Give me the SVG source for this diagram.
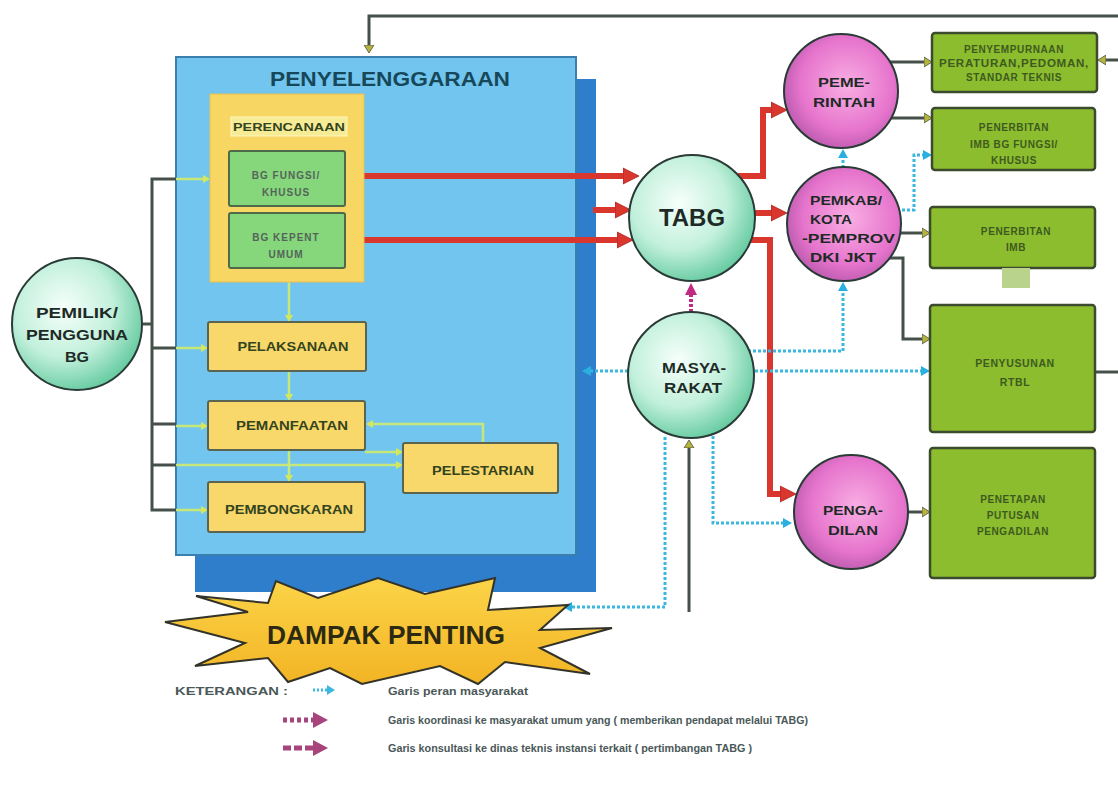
<svg xmlns="http://www.w3.org/2000/svg" width="1118" height="787" viewBox="0 0 1118 787">
<defs>
<radialGradient id="mint" cx="40%" cy="38%" r="68%"><stop offset="0" stop-color="#f6fffb"/><stop offset="0.55" stop-color="#c2f0dc"/><stop offset="1" stop-color="#5cc79a"/></radialGradient>
<radialGradient id="pink" cx="55%" cy="45%" r="68%"><stop offset="0" stop-color="#f9aee4"/><stop offset="0.6" stop-color="#e674cc"/><stop offset="1" stop-color="#a24c9e"/></radialGradient>
<linearGradient id="star" x1="0" y1="0" x2="0" y2="1"><stop offset="0" stop-color="#fcd448"/><stop offset="1" stop-color="#f2b424"/></linearGradient>
<marker id="mRed" markerUnits="userSpaceOnUse" markerWidth="18" markerHeight="18" refX="0" refY="9" orient="auto"><path d="M0,1 L16,9 L0,17 z" fill="#d9362e" stroke="#a82420" stroke-width="0.8"/></marker>
<marker id="mMag" markerUnits="userSpaceOnUse" markerWidth="14" markerHeight="14" refX="0" refY="7" orient="auto"><path d="M0,1 L12,7 L0,13 z" fill="#c02a80"/></marker>
<marker id="mCy" markerUnits="userSpaceOnUse" markerWidth="10" markerHeight="12" refX="0" refY="6" orient="auto"><path d="M0,1 L9,6 L0,11 z" fill="#2ab0e0"/></marker>
<marker id="mOl" markerUnits="userSpaceOnUse" markerWidth="10" markerHeight="12" refX="0" refY="6" orient="auto"><path d="M0,1 L8,6 L0,11 z" fill="#b6b43c" stroke="#4a504a" stroke-width="0.8"/></marker>
<marker id="mLg" markerUnits="userSpaceOnUse" markerWidth="8" markerHeight="10" refX="0" refY="5" orient="auto"><path d="M0,1 L7,5 L0,9 z" fill="#d6e85a"/></marker>
<marker id="mLegMag" markerUnits="userSpaceOnUse" markerWidth="18" markerHeight="18" refX="0" refY="9" orient="auto"><path d="M0,1 L15,9 L0,17 z" fill="#a8447c"/></marker>
<marker id="mLegCy" markerUnits="userSpaceOnUse" markerWidth="10" markerHeight="12" refX="0" refY="6" orient="auto"><path d="M0,1 L8,6 L0,11 z" fill="#3ab8e0"/></marker>
</defs>
<style>
text{font-family:"Liberation Sans",Arial,sans-serif;font-weight:bold;}
.c{text-anchor:middle;}
.red{fill:none;stroke:#d9362e;stroke-width:6;marker-end:url(#mRed);}
.mag{fill:none;stroke:#c02a80;stroke-width:4;stroke-dasharray:3 2;marker-end:url(#mMag);}
.cy{fill:none;stroke:#3ab8e0;stroke-width:3;stroke-dasharray:3 2;marker-end:url(#mCy);}
.ol{fill:none;stroke:#46504a;stroke-width:3;marker-end:url(#mOl);}
.gr{fill:none;stroke:#46504a;stroke-width:3;}
.lg{fill:none;stroke:#c6e878;stroke-width:2.5;marker-end:url(#mLg);}
.ybox{fill:#f8d86a;stroke:#5a6450;stroke-width:2;}
.gbox{fill:#86d77c;stroke:#4e6a48;stroke-width:2;}
.rbox{fill:#8bbd2e;stroke:#3c4a2e;stroke-width:2.5;}
.ylab{fill:#34441e;}
.glab{fill:#54645a;}
.rlab{fill:#3e5a20;letter-spacing:0.6px;}
.circ{stroke:#2a3a36;stroke-width:2;}
.clab{fill:#1e2a26;}
.leg{fill:#4a5858;}
</style>

<rect x="0" y="0" width="1118" height="787" fill="#ffffff"/>

<g id="penyelenggaraan">
<rect x="195" y="79" width="401" height="513" fill="#2f7ecb"/>
<rect x="176" y="57" width="400" height="498" fill="#72c5ef" stroke="#3a7fae" stroke-width="2"/>
<text x="390" y="86" class="c" fill="#17485a" font-size="20" textLength="240" lengthAdjust="spacingAndGlyphs">PENYELENGGARAAN</text>
</g>

<g id="connectors">
<path class="ol" d="M1118,16 H369 V45"/>
<path class="ol" d="M1118,60 H1106"/>
<path class="gr" d="M1095,372 H1118"/>
<path class="gr" d="M143,324 H152"/>
<path class="gr" d="M176,179 H152 V510 H176 M152,348 H176 M152,424 H176 M152,465 H176"/>
<path class="lg" d="M176,179 H203"/>
<path class="lg" d="M176,348 H201"/>
<path class="lg" d="M176,426 H201"/>
<path class="lg" d="M176,465 H396"/>
<path class="lg" d="M176,510 H201"/>
<path class="lg" d="M289,282 V315"/>
<path class="lg" d="M289,371 V394"/>
<path class="lg" d="M289,450 V475"/>
<path class="lg" d="M483,443 V424 H373"/>
<path class="lg" d="M365,452 H396"/>
<path class="red" d="M363,176 H623"/>
<path class="red" d="M593,210 H615"/>
<path class="red" d="M363,240 H617"/>
<path class="red" d="M738,176 H763 V110 H771"/>
<path class="red" d="M755,213 H771"/>
<path class="red" d="M748,240 H770 V494 H780"/>
<path class="mag" d="M691,312 V295"/>
<path class="cy" d="M628,371 H591"/>
<path class="cy" d="M755,371 H921"/>
<path class="cy" d="M748,351 H843 V291"/>
<path class="cy" d="M902,210 H914 V155 H923"/>
<path class="cy" d="M843,168 V158"/>
<path class="cy" d="M665,437 V607 H572"/>
<path class="cy" d="M713,436 V523 H783"/>
<path class="ol" d="M890,62 H924"/>
<path class="ol" d="M891,118 H924"/>
<path class="ol" d="M900,233 H922"/>
<path class="ol" d="M887,258 H903 V339 H922"/>
<path class="ol" d="M908,512 H922"/>
<path class="ol" d="M689,612 V448"/>
</g>

<g id="perencanaan">
<rect x="210" y="94" width="154" height="188" fill="#f8d664" stroke="#e8c050" stroke-width="1"/>
<rect x="231" y="117" width="116" height="19" fill="#f6ec96" stroke="#fff6c0" stroke-width="1"/>
<text x="289" y="131" class="c ylab" font-size="11.5" textLength="112" lengthAdjust="spacingAndGlyphs">PERENCANAAN</text>
</g>
<g id="bg-fungsi-khusus">
<rect class="gbox" x="229" y="151" width="116" height="55" rx="2"/>
<text x="286" y="179" class="c glab" font-size="10" letter-spacing="1">BG FUNGSI/</text>
<text x="286" y="196" class="c glab" font-size="10" letter-spacing="1">KHUSUS</text>
</g>
<g id="bg-kepent-umum">
<rect class="gbox" x="229" y="213" width="116" height="55" rx="2"/>
<text x="286" y="241" class="c glab" font-size="10" letter-spacing="1">BG KEPENT</text>
<text x="286" y="258" class="c glab" font-size="10" letter-spacing="1">UMUM</text>
</g>
<g id="pelaksanaan">
<rect class="ybox" x="208" y="322" width="158" height="49" rx="2"/>
<text x="293" y="351" class="c ylab" font-size="12" textLength="111" lengthAdjust="spacingAndGlyphs">PELAKSANAAN</text>
</g>
<g id="pemanfaatan">
<rect class="ybox" x="208" y="401" width="157" height="49" rx="2"/>
<text x="292" y="430" class="c ylab" font-size="12" textLength="112" lengthAdjust="spacingAndGlyphs">PEMANFAATAN</text>
</g>
<g id="pembongkaran">
<rect class="ybox" x="208" y="482" width="157" height="50" rx="2"/>
<text x="289" y="514" class="c ylab" font-size="12" textLength="128" lengthAdjust="spacingAndGlyphs">PEMBONGKARAN</text>
</g>
<g id="pelestarian">
<rect class="ybox" x="403" y="443" width="155" height="50" rx="2"/>
<text x="483" y="475" class="c ylab" font-size="12" textLength="102" lengthAdjust="spacingAndGlyphs">PELESTARIAN</text>
</g>

<g id="pemilik">
<ellipse class="circ" cx="77" cy="324" rx="65" ry="66" fill="url(#mint)"/>
<text x="77" y="318" class="c clab" font-size="14" textLength="82" lengthAdjust="spacingAndGlyphs">PEMILIK/</text>
<text x="77" y="340" class="c clab" font-size="14" textLength="102" lengthAdjust="spacingAndGlyphs">PENGGUNA</text>
<text x="77" y="362" class="c clab" font-size="14" textLength="24" lengthAdjust="spacingAndGlyphs">BG</text>
</g>
<g id="tabg">
<circle class="circ" cx="692" cy="218" r="63" fill="url(#mint)"/>
<text x="692" y="226" class="c clab" font-size="23" textLength="66" lengthAdjust="spacingAndGlyphs">TABG</text>
</g>
<g id="masyarakat">
<circle class="circ" cx="691" cy="375" r="63" fill="url(#mint)"/>
<text x="694" y="373" class="c clab" font-size="14" textLength="64" lengthAdjust="spacingAndGlyphs">MASYA-</text>
<text x="693" y="393" class="c clab" font-size="14" textLength="58" lengthAdjust="spacingAndGlyphs">RAKAT</text>
</g>
<g id="pemerintah">
<circle class="circ" cx="841" cy="91" r="57" fill="url(#pink)"/>
<text x="844" y="87" class="c clab" font-size="13.5" textLength="52" lengthAdjust="spacingAndGlyphs">PEME-</text>
<text x="844" y="107" class="c clab" font-size="13.5" textLength="62" lengthAdjust="spacingAndGlyphs">RINTAH</text>
</g>
<g id="pemkab">
<circle class="circ" cx="844" cy="224" r="57" fill="url(#pink)"/>
<text x="810" y="205" class="clab" font-size="13" textLength="72" lengthAdjust="spacingAndGlyphs">PEMKAB/</text>
<text x="810" y="224" class="clab" font-size="13" textLength="42" lengthAdjust="spacingAndGlyphs">KOTA</text>
<text x="802" y="243" class="clab" font-size="13" textLength="93" lengthAdjust="spacingAndGlyphs">-PEMPROV</text>
<text x="810" y="262" class="clab" font-size="13" textLength="66" lengthAdjust="spacingAndGlyphs">DKI JKT</text>
</g>
<g id="pengadilan">
<circle class="circ" cx="851" cy="512" r="57" fill="url(#pink)"/>
<text x="853" y="515" class="c clab" font-size="13.5" fill="#3a1a30" textLength="60" lengthAdjust="spacingAndGlyphs">PENGA-</text>
<text x="853" y="535" class="c clab" font-size="13.5" fill="#3a1a30" textLength="50" lengthAdjust="spacingAndGlyphs">DILAN</text>
</g>

<g id="penyempurnaan">
<rect class="rbox" x="932" y="33" width="165" height="59" rx="3"/>
<text x="1014" y="53" class="c rlab" font-size="10">PENYEMPURNAAN</text>
<text x="1014" y="67" class="c rlab" font-size="10" textLength="150" lengthAdjust="spacingAndGlyphs">PERATURAN,PEDOMAN,</text>
<text x="1014" y="81" class="c rlab" font-size="10">STANDAR TEKNIS</text>
</g>
<g id="penerbitan-imb-bg">
<rect class="rbox" x="932" y="108" width="163" height="62" rx="3"/>
<text x="1014" y="131" class="c rlab" font-size="10">PENERBITAN</text>
<text x="1014" y="148" class="c rlab" font-size="10">IMB BG FUNGSI/</text>
<text x="1014" y="164" class="c rlab" font-size="10">KHUSUS</text>
</g>
<g id="penerbitan-imb">
<rect class="rbox" x="930" y="207" width="165" height="61" rx="3"/>
<text x="1016" y="235" class="c rlab" font-size="10">PENERBITAN</text>
<text x="1016" y="251" class="c rlab" font-size="10">IMB</text>
<rect x="1002" y="268" width="28" height="20" fill="#b9d28c"/>
</g>
<g id="penyusunan-rtbl">
<rect class="rbox" x="930" y="305" width="165" height="127" rx="3"/>
<text x="1015" y="367" class="c rlab" font-size="10.5">PENYUSUNAN</text>
<text x="1015" y="386" class="c rlab" font-size="10.5">RTBL</text>
</g>
<g id="penetapan-putusan">
<rect class="rbox" x="930" y="448" width="165" height="130" rx="3"/>
<text x="1013" y="503" class="c rlab" font-size="10">PENETAPAN</text>
<text x="1013" y="519" class="c rlab" font-size="10">PUTUSAN</text>
<text x="1013" y="535" class="c rlab" font-size="10">PENGADILAN</text>
</g>

<g id="dampak-penting">
<polygon points="165,622 248,612 196,596 268,603 276,581 318,598 378,578 425,594 495,578 488,610 568,605 540,630 612,628 540,648 590,674 505,662 478,684 440,666 362,684 330,668 288,682 268,658 195,666 245,643" fill="url(#star)" stroke="#33332a" stroke-width="2"/>
<text x="386" y="644" class="c" fill="#2c2a12" font-size="26" textLength="238" lengthAdjust="spacingAndGlyphs">DAMPAK PENTING</text>
</g>

<g id="legend">
<text x="175" y="695" class="leg" font-size="10.5" textLength="113" lengthAdjust="spacingAndGlyphs">KETERANGAN :</text>
<path d="M313,690 H327" fill="none" stroke="#3ab8e0" stroke-width="3" stroke-dasharray="2 2" marker-end="url(#mLegCy)"/>
<text x="388" y="695" class="leg" font-size="10.5" textLength="140" lengthAdjust="spacingAndGlyphs">Garis peran masyarakat</text>
<path d="M283,720 H313" fill="none" stroke="#a8447c" stroke-width="5" stroke-dasharray="4 3" marker-end="url(#mLegMag)"/>
<text x="388" y="724" class="leg" font-size="10.5" textLength="420" lengthAdjust="spacingAndGlyphs">Garis koordinasi ke masyarakat umum yang ( memberikan pendapat melalui TABG)</text>
<path d="M283,748 H313" fill="none" stroke="#a8447c" stroke-width="5" stroke-dasharray="8 3" marker-end="url(#mLegMag)"/>
<text x="388" y="752" class="leg" font-size="10.5" textLength="364" lengthAdjust="spacingAndGlyphs">Garis konsultasi ke dinas teknis instansi terkait ( pertimbangan TABG )</text>
</g>
</svg>
